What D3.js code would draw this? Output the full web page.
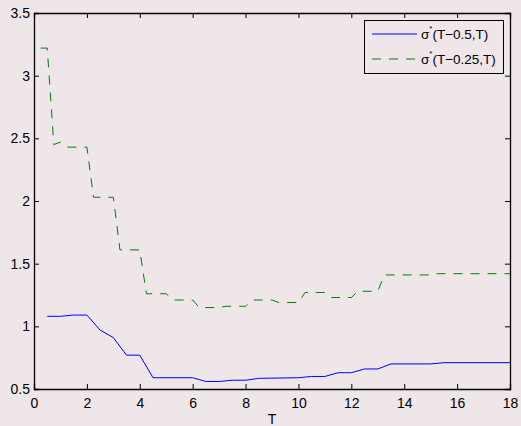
<!DOCTYPE html>
<html>
<head>
<meta charset="UTF-8">
<script src="https://d3js.org/d3.v7.min.js"></script>
<style>
  body { margin: 0; background: #eee6e9; }
  text { font-family: "Liberation Sans", Arial, sans-serif; fill: #000; }
</style>
</head>
<body>
<svg width="521" height="426"></svg>
<script>
// sigma*(T-0.5,T)
const tBlue = [0.5, 1.0, 1.5, 2.0, 2.5, 3.0, 3.5, 4.0, 4.5, 6.0, 6.5, 7.0, 7.5, 8.0, 8.5, 10.0, 10.5, 11.0, 11.5, 12.0, 12.5, 13.0, 13.5, 15.0, 15.5, 18.0];
const vBlue = [1.08, 1.08, 1.09, 1.09, 0.97, 0.91, 0.77, 0.77, 0.59, 0.59, 0.56, 0.56, 0.57, 0.57, 0.585, 0.59, 0.60, 0.60, 0.63, 0.63, 0.66, 0.66, 0.70, 0.70, 0.71, 0.71];
// sigma*(T-0.25,T)
const tGreen = [0.25, 0.5, 0.75, 1.0, 1.25, 2.0, 2.25, 3.0, 3.25, 4.0, 4.25, 5.0, 5.25, 6.0, 6.25, 7.0, 7.25, 8.0, 8.25, 9.0, 9.25, 10.0, 10.25, 11.0, 11.25, 12.0, 12.25, 13.0, 13.25, 15.0, 15.25, 18.0];
const vGreen = [3.22, 3.22, 2.45, 2.47, 2.43, 2.43, 2.03, 2.03, 1.61, 1.61, 1.26, 1.26, 1.21, 1.21, 1.15, 1.15, 1.16, 1.16, 1.21, 1.21, 1.19, 1.19, 1.27, 1.27, 1.23, 1.23, 1.28, 1.28, 1.41, 1.41, 1.42, 1.42];
const xTicks = [0, 2, 4, 6, 8, 10, 12, 14, 16, 18];
const yTicks = [0.5, 1, 1.5, 2, 2.5, 3, 3.5];
const seriesNames = ["(T\u22120.5,T)", "(T\u22120.25,T)"];

const svg = d3.select("svg");
const mLeft = 34, mRight = 510, mTop = 13, mBottom = 389;

const x = d3.scaleLinear().domain([0, 18]).range([mLeft, mRight]);
const y = d3.scaleLinear().domain([0.5, 3.5]).range([mBottom, mTop]);

const line = d3.line().x(d => x(d[0])).y(d => y(d[1]));

svg.append("path")
  .datum(d3.zip(tBlue, vBlue))
  .attr("fill", "none").attr("stroke", "#0000ff").attr("stroke-width", 1)
  .attr("d", line);

svg.append("path")
  .datum(d3.zip(tGreen, vGreen))
  .attr("fill", "none").attr("stroke", "#008000").attr("stroke-width", 1)
  .attr("stroke-dasharray", "9,8")
  .attr("d", line);

// axes (box with inward ticks)
const tl = 5;
const xb = svg.append("g").attr("transform", `translate(0,${mBottom})`)
  .call(d3.axisBottom(x).tickValues(xTicks).tickSize(-tl).tickPadding(9).tickFormat(d3.format("")));
const xt = svg.append("g").attr("transform", `translate(0,${mTop})`)
  .call(d3.axisTop(x).tickValues(xTicks).tickSize(-tl).tickFormat(""));
const yl = svg.append("g").attr("transform", `translate(${mLeft},0)`)
  .call(d3.axisLeft(y).tickValues(yTicks).tickSize(-tl).tickPadding(4).tickFormat(d3.format("")));
const yr = svg.append("g").attr("transform", `translate(${mRight},0)`)
  .call(d3.axisRight(y).tickValues(yTicks).tickSize(-tl).tickFormat(""));

[xb, xt, yl, yr].forEach(g => {
  g.select(".domain").attr("stroke", "#000").attr("stroke-width", 1.3);
  g.selectAll(".tick line").attr("stroke", "#000");
  g.selectAll("text").attr("font-size", 14).attr("font-family", "Liberation Sans, Arial, sans-serif");
});

svg.append("text")
  .attr("x", (mLeft + mRight) / 2).attr("y", 424)
  .attr("text-anchor", "middle").attr("font-size", 14)
  .text("T");

// legend
const lg = svg.append("g");
lg.append("rect")
  .attr("x", 364.5).attr("y", 20.5).attr("width", 139).attr("height", 53)
  .attr("fill", "#eee6e9").attr("stroke", "#000").attr("stroke-width", 1);

const legendItems = [
  {name: seriesNames[0], color: "#0000ff", dash: null, yy: 34},
  {name: seriesNames[1], color: "#008000", dash: "9,8", yy: 59}
];
legendItems.forEach(it => {
  lg.append("line")
    .attr("x1", 372).attr("x2", 417).attr("y1", it.yy).attr("y2", it.yy)
    .attr("stroke", it.color).attr("stroke-width", 1)
    .attr("stroke-dasharray", it.dash);
  const t = lg.append("text").attr("x", 421).attr("y", it.yy + 5).attr("font-size", 13.5);
  t.append("tspan").text("\u03c3");
  t.append("tspan").attr("font-size", 8).attr("dy", -8).text("*");
  t.append("tspan").attr("dy", 8).text(it.name);
});
</script>
</body>
</html>
